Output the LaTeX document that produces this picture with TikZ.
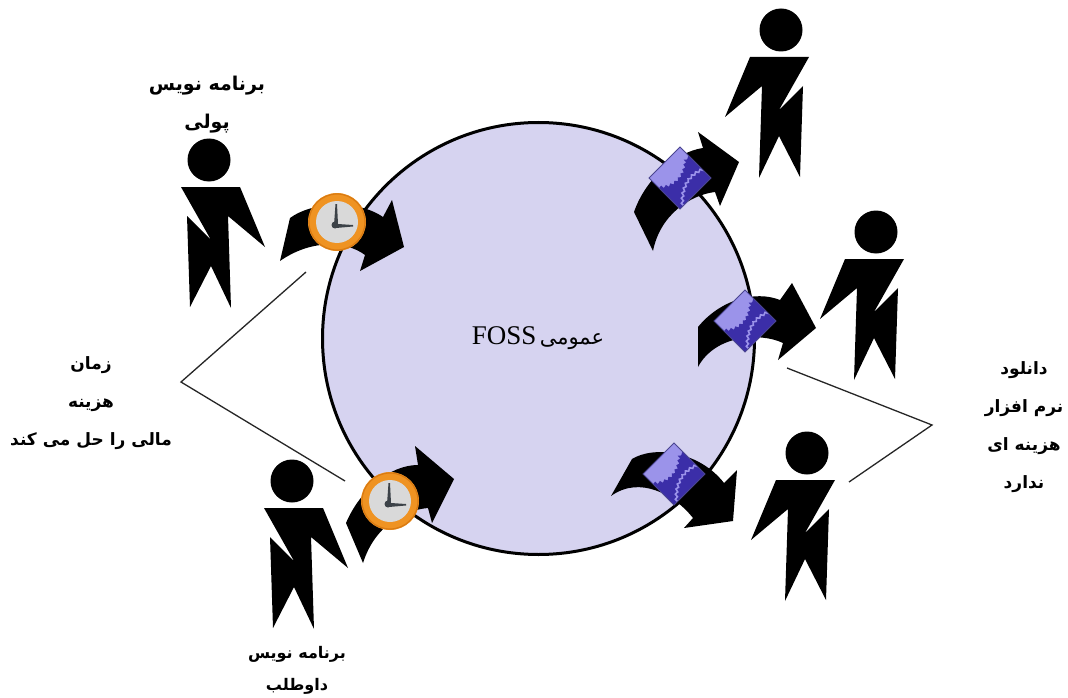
\documentclass[tikz,border=0pt]{standalone}
\usepackage{fontspec}
\usetikzlibrary{decorations.pathmorphing}
\TeXXeTstate=1
\newfontfamily\arb[Script=Arabic]{DejaVu Sans}
\newfontfamily\lat{Liberation Serif}
\newcommand{\fa}[1]{\beginR #1\endR}
\definecolor{discfill}{HTML}{D6D3F0}
\definecolor{ringor}{HTML}{EF9322}
\definecolor{ringdk}{HTML}{D97A12}
\definecolor{facegr}{HTML}{D9D9D9}
\definecolor{handgr}{HTML}{3C4248}
\definecolor{doclt}{HTML}{9B93EA}
\definecolor{docdk}{HTML}{3B2EA8}
\definecolor{docln}{HTML}{4A4590}
\tikzset{
  x=1pt,y=-1pt,
  lblbig/.style={font=\arb\bfseries\fontsize{19}{38}\selectfont,align=center,inner sep=0pt,text=black},
  lbl/.style={font=\arb\bfseries\fontsize{17}{38}\selectfont,align=center,inner sep=0pt,text=black},
  lblsm/.style={font=\arb\bfseries\fontsize{16}{32}\selectfont,align=center,inner sep=0pt,text=black},
  leader/.style={draw=black!85,line width=1.3pt},
  flow/.style={fill=black},
  person/.pic={
    \fill[black] (0,0) circle (21.5);
    \fill[black] (-28,27) -- (31,27) -- (56,87) -- (19,56) -- (22,148) -- (2,106) -- (-19,147) -- (-22,56) -- (2,80) -- cycle;
  },
  clockface/.pic={
    \fill[ringor] (0,0) circle (29);
    \draw[ringdk,line width=1.2pt] (0,0) circle (28);
    \fill[facegr] (0,0) circle (21);
    \fill[handgr] (-3,3) -- (-1.5,-18) -- (0,-18) -- (1,2) -- (16,3) -- (16,4.5) -- (-1,6) -- cycle;
    \fill[handgr] (-2,3) circle (3.5);
  },
  docdiamond/.pic={
    \begin{scope}
      \clip (0,-31) -- (31,0) -- (0,31) -- (-31,0) -- cycle;
      \fill[doclt] (-32,-32) rectangle (32,32);
      \fill[docdk,decorate,decoration={zigzag,amplitude=1.3pt,segment length=5pt}]
        (-20,9) .. controls (-8,9) and (5,0) .. (5,-19) -- (40,-35) -- (40,40) -- (-30,40) -- cycle;
      \draw[doclt,line width=1.6pt,decorate,decoration={zigzag,amplitude=1.1pt,segment length=5pt}]
        (24,-9) .. controls (8,-4) and (0,12) .. (3,30);
    \end{scope}
    \draw[docln,line width=0.9pt] (0,-31) -- (31,0) -- (0,31) -- (-31,0) -- cycle;
  }
}
\begin{document}
\begin{tikzpicture}
\useasboundingbox[fill=white] (0,0) rectangle (1068,698);
% disc
\node[circle,draw=black,line width=3pt,fill=discfill,minimum size=432pt,inner sep=0pt] (disc) at (538.5,338.5) {};
% people
\pic at (209,160) {person};
\pic at (292,481) {person};
\pic[xscale=-1] at (781,30) {person};
\pic[xscale=-1] at (876,232) {person};
\pic[xscale=-1] at (807,453) {person};
% flow arrows
\fill[flow] (280,261) -- (290,218) .. controls (310,203) and (355,198) .. (383,217) -- (392,200) -- (404,247) -- (360,271) -- (365,255) .. controls (345,240) and (310,240) .. (280,261) -- cycle;
\fill[flow] (363,563) -- (346,523) .. controls (360,490) and (390,465) .. (418,465) -- (415,446) -- (454,479) -- (432,523) -- (428,508) .. controls (405,510) and (375,525) .. (363,563) -- cycle;
\fill[flow] (653,251) -- (634,212) .. controls (645,180) and (675,152) .. (703,148) -- (698,132) -- (739,162) -- (720,206) -- (715,192) .. controls (690,195) and (660,215) .. (653,251) -- cycle;
\fill[flow] (698,367) -- (698,327) .. controls (720,300) and (755,290) .. (780,300) -- (792,283) -- (816,328) -- (778,360) -- (783,343) .. controls (760,332) and (715,335) .. (698,367) -- cycle;
\fill[flow] (611,496) -- (632,459) .. controls (655,445) and (700,452) .. (724,483) -- (737,470) -- (733,521) -- (684,528) -- (693,518) .. controls (675,495) and (640,475) .. (611,496) -- cycle;
% clocks and documents
\pic at (337,222) {clockface};
\pic at (390,501) {clockface};
\pic at (680,178) {docdiamond};
\pic at (745,321) {docdiamond};
\pic at (674,474) {docdiamond};
% leaders
\coordinate (la) at (306,272);
\coordinate (lhub) at (181,382);
\coordinate (lb) at (345,481);
\coordinate (ra) at (787,368);
\coordinate (rhub) at (932,425);
\coordinate (rb) at (849,482);
\draw[leader,line join=miter] (la) -- (lhub) -- (lb);
\draw[leader,line join=miter] (ra) -- (rhub) -- (rb);
% labels
\node[inner sep=0pt] (disclabel) at (538,338) {\beginR{\arb\fontsize{21}{25}\selectfont عمومی} \beginL{\lat\fontsize{27}{30}\selectfont FOSS}\endL\endR};
\node[lblbig] (paid) at (207,105) {\fa{برنامه نویس}\\\fa{پولی}};
\node[lblsm] (vol) at (297,670) {\fa{برنامه نویس}\\\fa{داوطلب}};
\node[lbl] (cost) at (91,403) {\fa{زمان}\\\fa{هزینه}\\\fa{مالی را حل می کند}};
\node[lbl] (dl) at (1024,427) {\fa{دانلود}\\\fa{نرم افزار}\\\fa{هزینه ای}\\\fa{ندارد}};
\end{tikzpicture}
\end{document}
